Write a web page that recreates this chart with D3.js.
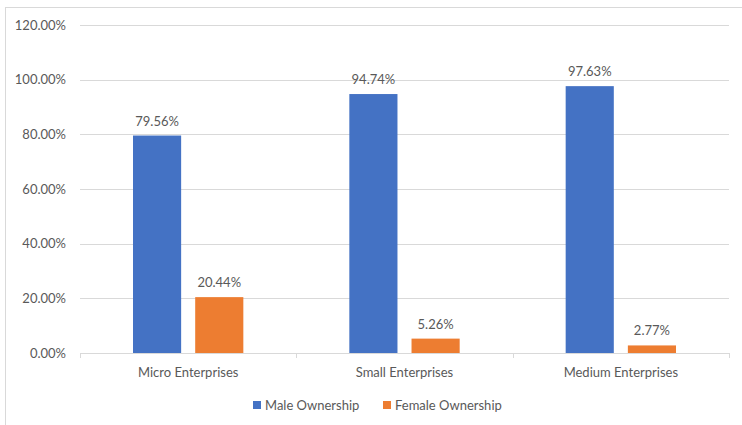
<!DOCTYPE html>
<html><head><meta charset="utf-8">
<script src="https://cdn.jsdelivr.net/npm/d3@7"></script>
<style>body{margin:0;background:#fff}text{font-family:Lato,"Open Sans",sans-serif;fill:#595959}</style>
</head><body><svg id="c" width="742" height="425"></svg>
<script>
const categories = ["Micro Enterprises", "Small Enterprises", "Medium Enterprises"];
const seriesNames = ["Male Ownership", "Female Ownership"];
const male = [79.56, 94.74, 97.63];
const female = [20.44, 5.26, 2.77];
const yTicks = [0, 20, 40, 60, 80, 100, 120];
const colors = ["#4472C4", "#ED7D31"];

const svg = d3.select("#c");
svg.append("rect").attr("x",5.5).attr("y",7.5).attr("width",760).attr("height",430)
  .attr("fill","#fff").attr("stroke","#d9d9d9");
const L=80,R=729,T=25,B=353;
const y = d3.scaleLinear().domain([0,120]).range([B,T]);
const x0 = d3.scaleBand().domain(categories).range([L,R]).paddingInner(0).paddingOuter(0);
const x1 = d3.scaleBand().domain(seriesNames).range([53, x0.bandwidth()-53]).paddingInner(0.226).paddingOuter(0);

svg.append("g").selectAll("line").data(yTicks.filter(d=>d>0)).join("line")
  .attr("x1",L).attr("x2",R).attr("y1",d=>Math.round(y(d))+0.5).attr("y2",d=>Math.round(y(d))+0.5)
  .attr("stroke","#d9d9d9");
svg.append("g").selectAll("text").data(yTicks).join("text")
  .attr("x",66).attr("y",d=>y(d)).attr("dy","0.35em").attr("text-anchor","end")
  .attr("font-size",13).text(d=>d3.format(".2f")(d)+"%");

const data = categories.map((c,i)=>({c, vals:[male[i],female[i]]}));
const g = svg.append("g").selectAll("g").data(data).join("g")
  .attr("transform",d=>`translate(${x0(d.c)},0)`);
g.selectAll("rect").data(d=>d.vals.map((v,j)=>({k:seriesNames[j],v,j}))).join("rect")
  .attr("x",d=>x1(d.k)).attr("width",x1.bandwidth())
  .attr("y",d=>y(d.v)).attr("height",d=>B-y(d.v)).attr("fill",d=>colors[d.j]);
g.selectAll("text.v").data(d=>d.vals.map((v,j)=>({k:seriesNames[j],v,j}))).join("text")
  .attr("class","v").attr("x",d=>x1(d.k)+x1.bandwidth()/2).attr("y",d=>y(d.v)-10)
  .attr("text-anchor","middle").attr("font-size",13).text(d=>d.v.toFixed(2)+"%");

svg.append("line").attr("x1",L).attr("x2",R).attr("y1",B+0.5).attr("y2",B+0.5).attr("stroke","#d9d9d9");
const edges = categories.map(c=>x0(c)).concat([R]);
svg.append("g").selectAll("line").data(edges).join("line")
  .attr("x1",d=>Math.round(d)+0.5).attr("x2",d=>Math.round(d)+0.5).attr("y1",B).attr("y2",B+5).attr("stroke","#d9d9d9");
svg.append("g").selectAll("text").data(categories).join("text")
  .attr("x",d=>x0(d)+x0.bandwidth()/2).attr("y",372).attr("dy","0.35em").attr("text-anchor","middle")
  .attr("font-size",13).text(d=>d);

const leg = svg.append("g");
const lx = [253, 383];
seriesNames.forEach((s,i)=>{
  leg.append("rect").attr("x",lx[i]).attr("y",401).attr("width",8).attr("height",8).attr("fill",colors[i]);
  leg.append("text").attr("x",lx[i]+12).attr("y",405).attr("dy","0.35em").attr("font-size",13).text(s);
});
</script></body></html>
